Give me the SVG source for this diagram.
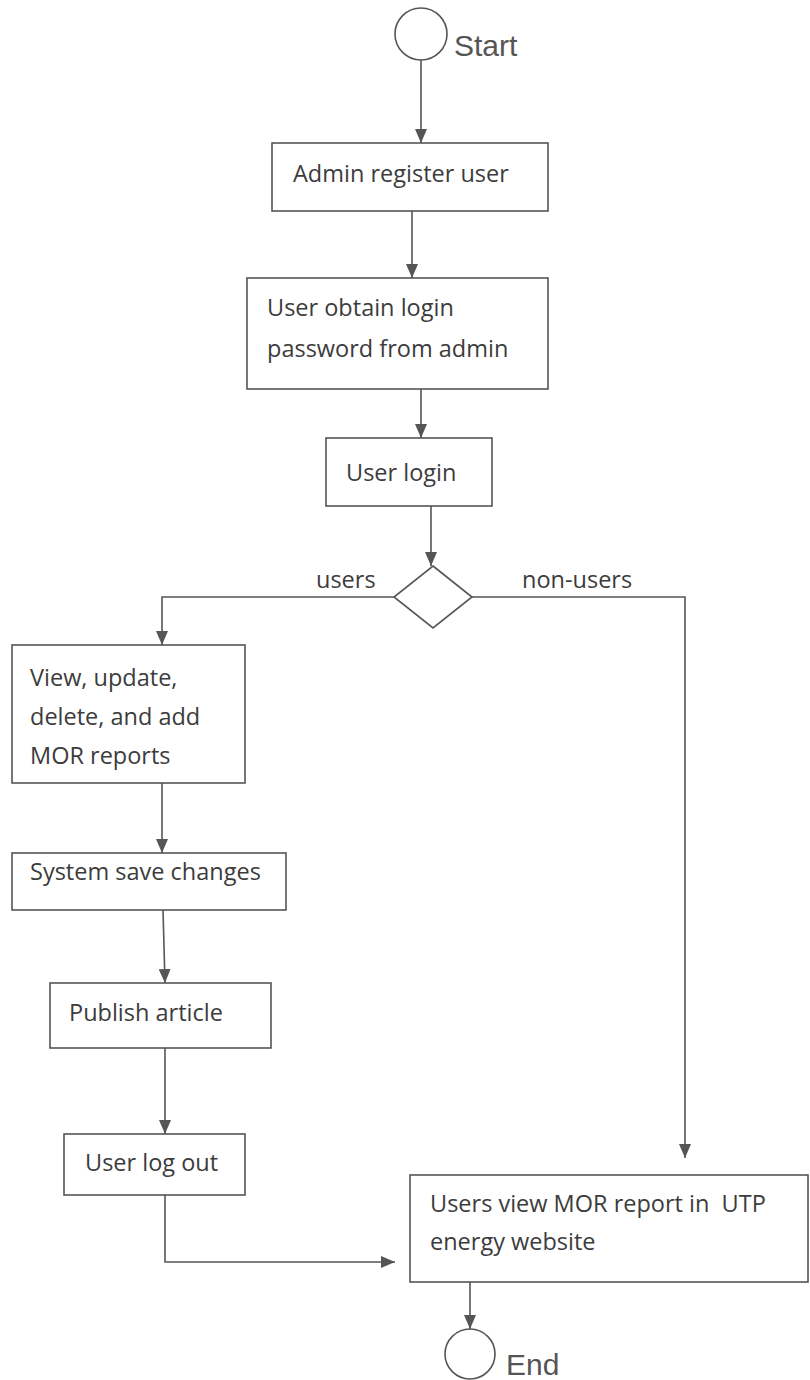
<svg xmlns="http://www.w3.org/2000/svg" width="810" height="1380" viewBox="0 0 810 1380">
<style>
.box{fill:#fff;stroke:#555;stroke-width:1.6}
.term{fill:#fff;stroke:#555;stroke-width:1.6}
.t{font-family:"Open Sans","Liberation Sans",sans-serif;font-size:23.5px;fill:#3c3c3c}
.lbl{font-family:"Liberation Sans",Arial,sans-serif;font-size:30px;fill:#555}
.c{fill:none;stroke:#555;stroke-width:1.6}
</style>
<defs>
<marker id="arrL" viewBox="0 0 14 12" refX="14" refY="6" markerWidth="14" markerHeight="12" markerUnits="userSpaceOnUse" orient="auto">
<path d="M0,0 L14,6 L0,12 z" fill="#555"/>
</marker>
</defs>
<rect width="810" height="1380" fill="#fff"/>
<g id="connectors">
<path class="c" d="M421,60 L421,143" marker-end="url(#arrL)"/>
<path class="c" d="M412,211 L412,278" marker-end="url(#arrL)"/>
<path class="c" d="M421,389 L421,438" marker-end="url(#arrL)"/>
<path class="c" d="M431,506 L431,566" marker-end="url(#arrL)"/>
<path class="c" d="M394,597 L162,597 L162,645" marker-end="url(#arrL)"/>
<path class="c" d="M472,597 L685,597 L685,1158" marker-end="url(#arrL)"/>
<path class="c" d="M162,783 L162,853" marker-end="url(#arrL)"/>
<path class="c" d="M163,910 L165,983" marker-end="url(#arrL)"/>
<path class="c" d="M165,1048 L165,1134" marker-end="url(#arrL)"/>
<path class="c" d="M165,1195 L165,1262 L395,1262" marker-end="url(#arrL)"/>
<path class="c" d="M470,1282 L470,1329" marker-end="url(#arrL)"/>
<text class="t" x="316" y="588">users</text>
<text class="t" x="522" y="588">non-users</text>
</g>
<g id="start">
<circle class="term" cx="421" cy="34" r="26"/>
<text class="lbl" x="454" y="56">Start</text>
</g>
<g id="admin-register">
<rect class="box" x="272" y="143" width="276" height="68"/>
<text class="t" x="293" y="182">Admin register user</text>
</g>
<g id="obtain-password">
<rect class="box" x="247" y="278" width="301" height="111"/>
<text class="t" x="267" y="316">User obtain login</text>
<text class="t" x="267" y="357">password from admin</text>
</g>
<g id="user-login">
<rect class="box" x="326" y="438" width="166" height="68"/>
<text class="t" x="346" y="481">User login</text>
</g>
<g id="decision">
<polygon class="box" points="433,566 472,597 433,628 394,597"/>
</g>
<g id="view-update">
<rect class="box" x="12" y="645" width="233" height="138"/>
<text class="t" x="30" y="686">View, update,</text>
<text class="t" x="30" y="725">delete, and add</text>
<text class="t" x="30" y="764">MOR reports</text>
</g>
<g id="save-changes">
<rect class="box" x="12" y="853" width="274" height="57"/>
<text class="t" x="30" y="880">System save changes</text>
</g>
<g id="publish">
<rect class="box" x="50" y="983" width="221" height="65"/>
<text class="t" x="69" y="1021">Publish article</text>
</g>
<g id="logout">
<rect class="box" x="64" y="1134" width="181" height="61"/>
<text class="t" x="85" y="1171">User log out</text>
</g>
<g id="view-website">
<rect class="box" x="410" y="1175" width="398" height="107"/>
<text class="t" x="430" y="1212" xml:space="preserve" style="white-space:pre">Users view MOR report in  UTP</text>
<text class="t" x="430" y="1250">energy website</text>
</g>
<g id="end">
<circle class="term" cx="470" cy="1354" r="25"/>
<text class="lbl" x="506" y="1375">End</text>
</g>
</svg>
